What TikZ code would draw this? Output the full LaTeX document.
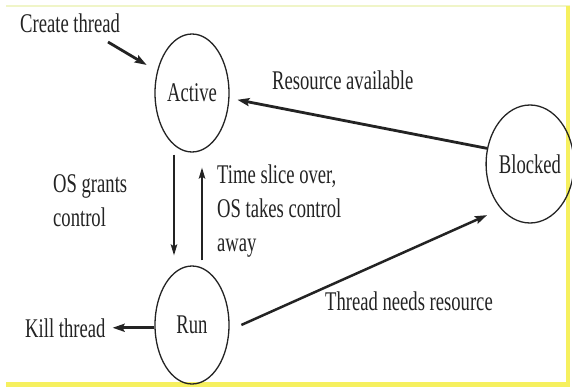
\documentclass[tikz,border=0pt]{standalone}
\usepackage{fontspec}
\setmainfont{Liberation Serif}[FakeStretch=0.69]
\usetikzlibrary{arrows.meta,shapes.geometric}
\definecolor{frameyellow}{RGB}{246,240,95}
\definecolor{paleyellow}{RGB}{240,245,200}
\definecolor{ink}{RGB}{35,35,35}
\begin{document}
\begin{tikzpicture}[x=1pt,y=-1pt,
  state/.style={draw=ink,line width=1.3pt,ellipse,minimum width=74pt,minimum height=118pt,inner sep=0pt,text=ink},
  lbl/.style={inner sep=0pt,text=ink,align=left},
  arr/.style={draw=ink,line width=2.8pt,-{Stealth[length=12pt,width=8pt,inset=2pt]}},
  thin arr/.style={draw=ink,line width=1.5pt,-{Stealth[length=11pt,width=6.5pt,inset=2pt]}},
  font=\fontsize{27}{34}\selectfont]
\useasboundingbox (0,0) rectangle (572,390);
\fill[white] (0,0) rectangle (572,390);
% frame
\draw[paleyellow,line width=1.5pt] (6,6) -- (570,6);
\draw[frameyellow,line width=4pt] (568,6) -- (568,384);
\draw[frameyellow,line width=5pt] (6,384) -- (570,384);
% states
\node[state] (act) at (192,93) {Active};
\node[state] (run) at (192,325) {Run};
\node[state] (blk) at (530,164) {Blocked};
% labels
\node[lbl,anchor=base west] (ct) at (20,33) {Create thread};
\node[lbl,anchor=base west] (ra) at (272,90) {Resource available};
\node[lbl,anchor=north west] (osg) at (53,174.5) {OS grants\\control};
\node[lbl,anchor=north west] (ts) at (217,164.5) {Time slice over,\\OS takes control\\away};
\node[lbl,anchor=base west] (kill) at (25,337) {Kill thread};
\node[lbl,anchor=base west] (tnr) at (325,310) {Thread needs resource};
\coordinate (ctend) at (108,42);
% connectors
\draw[arr,shorten >=12pt] (ctend) -- (act.148);
\draw[arr,shorten >=8pt] (blk.160) -- (act.352);
\draw[thin arr,shorten <=2pt,shorten >=10pt] ([xshift=-18pt]act.south) -- ([xshift=-18pt]run.north);
\draw[thin arr,shorten <=5pt,shorten >=15pt] ([xshift=10pt]run.north) -- ([xshift=10pt]act.south);
\draw[arr,shorten >=4pt] (run.west |- kill.east) -- ([xshift=3pt]kill.east);
\draw[arr,line width=2.5pt,shorten <=13pt,shorten >=15pt] (run.352) -- (blk.237);
\end{tikzpicture}
\end{document}
